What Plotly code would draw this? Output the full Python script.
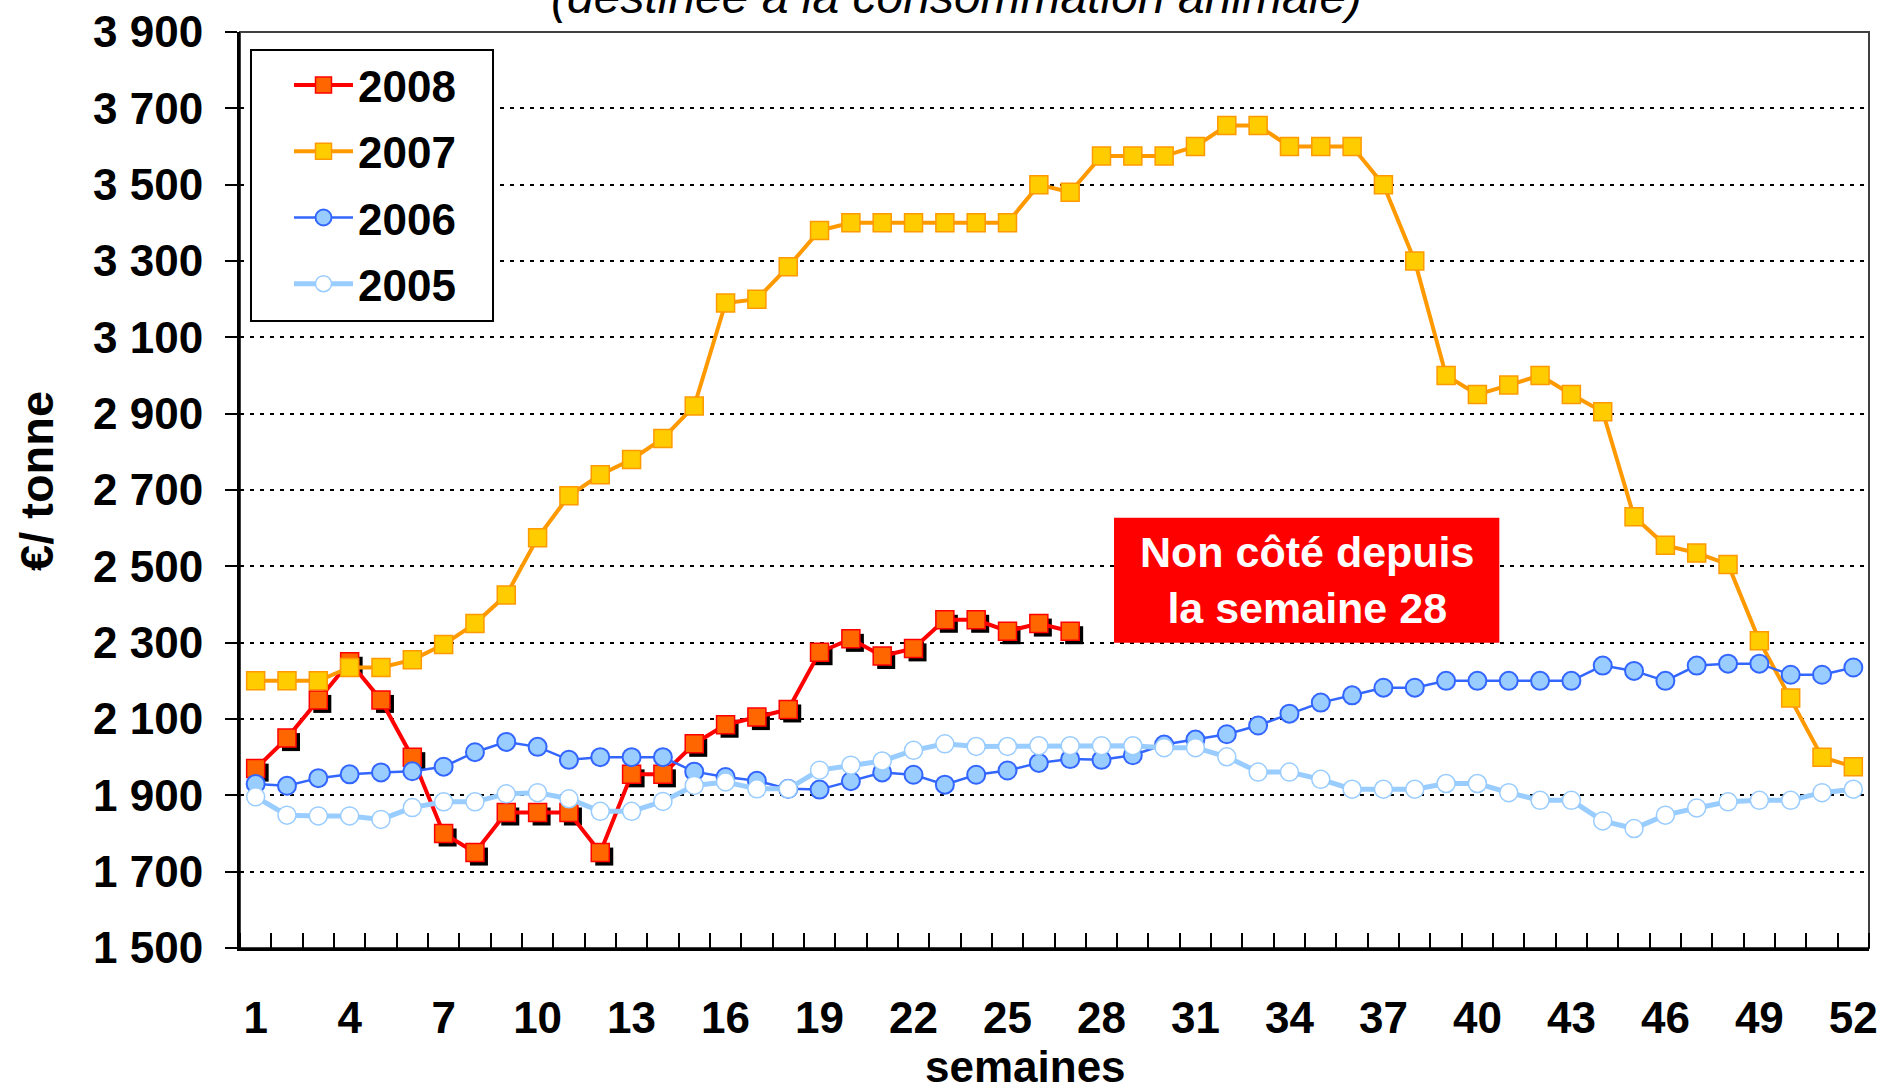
import plotly.graph_objects as go

# ---------------- data ----------------
WEEKS = list(range(1, 53))
X_TICK_VALS = [1, 4, 7, 10, 13, 16, 19, 22, 25, 28, 31, 34, 37, 40, 43, 46, 49, 52]
X_TICK_LABELS = [str(v) for v in X_TICK_VALS]
Y_TICK_VALS = [1500, 1700, 1900, 2100, 2300, 2500, 2700, 2900, 3100, 3300, 3500, 3700, 3900]
Y_TICK_LABELS = ["1 500", "1 700", "1 900", "2 100", "2 300", "2 500", "2 700",
                 "2 900", "3 100", "3 300", "3 500", "3 700", "3 900"]

P2008 = [1970, 2050, 2150, 2250, 2150, 2000, 1800, 1750, 1855, 1855, 1855, 1750, 1955,
         1955, 2035, 2085, 2105, 2125, 2275, 2310, 2265, 2285, 2360, 2360, 2330, 2350, 2330]

P2007 = [2200, 2200, 2200, 2235, 2235, 2255, 2295, 2350, 2425, 2575, 2685, 2740, 2780,
         2835, 2920, 3190, 3200, 3285, 3380, 3400, 3400, 3400, 3400, 3400, 3400, 3500,
         3480, 3575, 3575, 3575, 3600, 3655, 3655, 3600, 3600, 3600, 3500, 3300, 3000,
         2950, 2975, 3000, 2950, 2905, 2630, 2555, 2535, 2505, 2305, 2155, 2000, 1975]

P2006 = [1930, 1925, 1945, 1955, 1960, 1963, 1975, 2013, 2040, 2027, 1993, 2000, 2000,
         2000, 1962, 1948, 1938, 1917, 1915, 1937, 1960, 1954, 1928, 1954, 1965, 1985,
         1995, 1993, 2005, 2033, 2046, 2060, 2083, 2114, 2143, 2162, 2182, 2182, 2200,
         2200, 2200, 2200, 2200, 2240, 2226, 2200, 2240, 2245, 2245, 2216, 2216, 2235]

P2005 = [1896, 1848, 1846, 1846, 1837, 1868, 1883, 1883, 1904, 1907, 1891, 1858, 1858,
         1884, 1926, 1935, 1917, 1917, 1966, 1979, 1990, 2018, 2035, 2028, 2028, 2030,
         2030, 2030, 2030, 2025, 2025, 2001, 1961, 1961, 1942, 1916, 1916, 1916, 1931,
         1931, 1907, 1887, 1887, 1833, 1813, 1848, 1867, 1883, 1887, 1887, 1907, 1916]

TITLE = "(destinée à la consommation animale)"
Y_TITLE = "€/ tonne"
X_TITLE = "semaines"
NOTE = "Non côté depuis<br>la semaine 28"

# ---------------- layout geometry ----------------
FONT = "Liberation Sans"
W, H = 1885, 1085
L, R, T, B = 240, 12, 32, 133
SH = 4  # marker shadow offset (px)
PW = W - L - R
PH = H - T - B
DX = SH / PW
DY = SH / PH


def pxx(xp):
    return (xp - L) / PW


def pxy(yp):
    return (H - B - yp) / PH


BOLD = dict(family=FONT, size=44, color="black", weight="bold")
MS = 18

fig = go.Figure()

# shadow of the 2008 markers (drawn on an offset copy of the axes)
fig.add_trace(go.Scatter(
    x=WEEKS[:len(P2008)], y=P2008, mode="markers", xaxis="x", yaxis="y",
    marker=dict(symbol="square", size=MS, color="black", line=dict(width=0)),
    showlegend=False, hoverinfo="skip"))

series = [
    ("2008", P2008, dict(color="#FF0000", width=4),
     dict(symbol="square", size=MS, color="#FF6600", line=dict(color="#FF0000", width=1.5))),
    ("2007", P2007, dict(color="#FF9900", width=4),
     dict(symbol="square", size=MS, color="#FFCC00", line=dict(color="#FF9900", width=1.5))),
    ("2006", P2006, dict(color="#3366FF", width=2.5),
     dict(symbol="circle", size=MS, color="#99CCFF", line=dict(color="#3366FF", width=2))),
    ("2005", P2005, dict(color="#99CCFF", width=5),
     dict(symbol="circle", size=MS, color="#FFFFFF", line=dict(color="#99CCFF", width=1.5))),
]
for name, vals, line, marker in series:
    fig.add_trace(go.Scatter(
        x=WEEKS[:len(vals)], y=vals, name=name, mode="lines+markers",
        xaxis="x2", yaxis="y2", line=line, marker=marker, legendgroup=name))

fig.update_layout(
    width=W, height=H,
    margin=dict(l=L, r=R, t=T, b=B, autoexpand=False),
    paper_bgcolor="white", plot_bgcolor="rgba(0,0,0,0)",
    font=dict(family=FONT, color="black"),
    showlegend=True,
    legend=dict(
        xref="container", yref="container",
        x=251 / W, y=1 - 50 / H, xanchor="left", yanchor="top",
        bgcolor="rgba(0,0,0,0)", borderwidth=0,
        font=BOLD, tracegroupgap=6, traceorder="grouped",
        itemwidth=59, indentation=38),
    xaxis=dict(domain=[DX, 1], range=[0.5, 52.5], visible=False, anchor="y"),
    yaxis=dict(domain=[0, 1 - DY], range=[1500, 3900], visible=False, anchor="x"),
    xaxis2=dict(
        domain=[0, 1 - DX], anchor="y2", range=[0.5, 52.5],
        tickmode="array", tickvals=X_TICK_VALS, ticktext=X_TICK_LABELS,
        ticks="", tickfont=BOLD, ticklabelstandoff=29,
        showline=True, linecolor="black", linewidth=3,
        showgrid=False, zeroline=False,
        minor=dict(ticks="inside", tickmode="linear", tick0=0.5, dtick=1,
                   ticklen=15, tickwidth=2, tickcolor="black", showgrid=False)),
    yaxis2=dict(
        domain=[DY, 1], anchor="x2", range=[1500, 3900],
        tickmode="array", tickvals=Y_TICK_VALS, ticktext=Y_TICK_LABELS,
        ticks="outside", ticklen=12, tickwidth=2, tickcolor="black",
        tickfont=BOLD, ticklabelstandoff=13,
        showline=True, linecolor="black", linewidth=3,
        showgrid=True, gridcolor="black", gridwidth=2, griddash="4px,6px",
        zeroline=False),
)

# plot frame (top / right)
fig.add_shape(type="rect", xref="paper", yref="paper", x0=0, x1=1 - DX, y0=DY, y1=1,
              line=dict(color="#404040", width=2), fillcolor="rgba(0,0,0,0)", layer="below")

# legend box
fig.add_shape(type="rect", xref="paper", yref="paper",
              x0=pxx(251), x1=pxx(493), y0=pxy(321), y1=pxy(50),
              line=dict(color="black", width=2), fillcolor="white", layer="above")

# red note box
fig.add_shape(type="rect", xref="x2", yref="y2", x0=28.4, x1=40.7, y0=2300, y1=2627,
              fillcolor="#FF0000", line=dict(width=0), layer="above")
fig.add_annotation(xref="x2", yref="y2", x=34.55, y=2463, text=NOTE, showarrow=False,
                   font=dict(family=FONT, size=43, color="white", weight="bold"),
                   xanchor="center", yanchor="middle")

# titles
fig.add_annotation(xref="paper", yref="paper", x=pxx(956), y=pxy(-3), text=TITLE,
                   showarrow=False, xanchor="center", yanchor="middle",
                   font=dict(family=FONT, size=48, color="black", style="italic"))
fig.add_annotation(xref="paper", yref="paper", x=pxx(36), y=pxy(481), text=Y_TITLE,
                   showarrow=False, textangle=-90, xanchor="center", yanchor="middle",
                   font=dict(family=FONT, size=47, color="black", weight="bold"))
fig.add_annotation(xref="paper", yref="paper", x=pxx(1025), y=pxy(1066), text=X_TITLE,
                   showarrow=False, xanchor="center", yanchor="middle", font=BOLD)

fig.write_html("out.html", config={"displayModeBar": False},
               post_script="document.body.style.margin='0';")
